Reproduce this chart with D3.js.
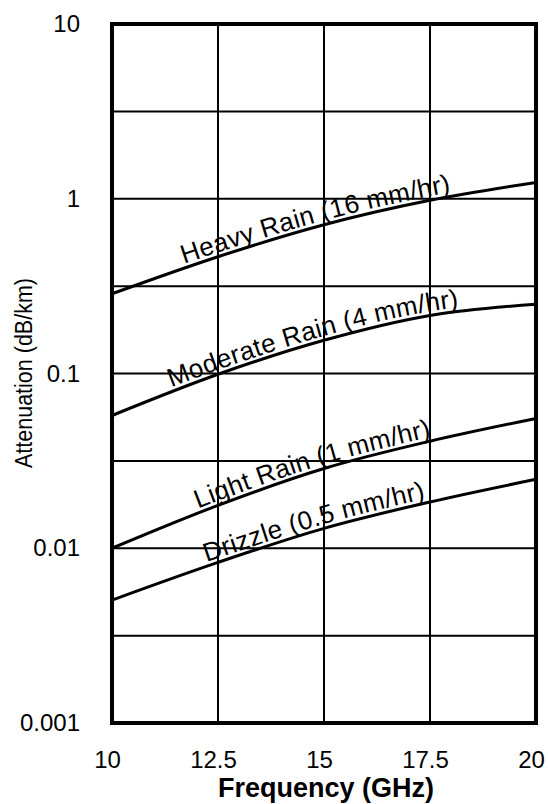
<!DOCTYPE html>
<html>
<head>
<meta charset="utf-8">
<script src="https://cdn.jsdelivr.net/npm/d3@7"></script>
<style>
  html, body { margin: 0; padding: 0; background: #fff; }
  svg { display: block; }
  text { font-family: "Liberation Sans", Arial, Helvetica, sans-serif; fill: #000; }
</style>
</head>
<body>
<svg id="chart" width="548" height="804"></svg>
<script>
// ---- data ----
const frequencies = [10, 12.5, 15, 17.5, 20];
const heavyRain    = [0.286, 0.466, 0.71, 0.98, 1.24];
const moderateRain = [0.0575, 0.099, 0.155, 0.215, 0.249];
const lightRain    = [0.01, 0.0176, 0.0286, 0.041, 0.0553];
const drizzle      = [0.00505, 0.0083, 0.013, 0.0184, 0.0248];

const seriesNames  = ["Heavy Rain (16 mm/hr)", "Moderate Rain (4 mm/hr)", "Light Rain (1 mm/hr)", "Drizzle (0.5 mm/hr)"];
const labelStartGHz = [11.72, 11.42, 12.05, 12.25];

const xTickValues = [10, 12.5, 15, 17.5, 20];
const xTickLabels = ["10", "12.5", "15", "17.5", "20"];
const yTickValues = [0.001, 0.01, 0.1, 1, 10];
const yTickLabels = ["0.001", "0.01", "0.1", "1", "10"];
const yGridValues = [0.001, 0.00316, 0.01, 0.0316, 0.1, 0.316, 1, 3.16, 10];
const xGridValues = [10, 12.5, 15, 17.5, 20];

const xTitle = "Frequency (GHz)";
const yTitle = "Attenuation (dB/km)";

// ---- layout ----
const plotLeft = 112, plotRight = 536, plotTop = 24, plotBottom = 723;
const svg = d3.select("#chart");

const x = d3.scaleLinear().domain([10, 20]).range([plotLeft, plotRight]);
const y = d3.scaleLog().domain([0.001, 10]).range([plotBottom, plotTop]);

// grid
const grid = svg.append("g");
grid.selectAll("line.h").data(yGridValues).join("line")
  .attr("class", "h")
  .attr("x1", plotLeft).attr("x2", plotRight)
  .attr("y1", d => y(d)).attr("y2", d => y(d))
  .attr("stroke", "#000").attr("stroke-width", 2);
grid.selectAll("line.v").data(xGridValues).join("line")
  .attr("class", "v")
  .attr("y1", plotTop).attr("y2", plotBottom)
  .attr("x1", d => x(d)).attr("x2", d => x(d))
  .attr("stroke", "#000").attr("stroke-width", 2);

// curves
const allSeries = [heavyRain, moderateRain, lightRain, drizzle];
const line = d3.line()
  .x((d, i) => x(frequencies[i]))
  .y(d => y(d))
  .curve(d3.curveMonotoneX);

const paths = svg.append("g").selectAll("path").data(allSeries).join("path")
  .attr("id", (d, i) => "curve" + i)
  .attr("d", line)
  .attr("fill", "none")
  .attr("stroke", "#000")
  .attr("stroke-width", 3);

// border
svg.append("rect")
  .attr("x", plotLeft).attr("y", plotTop)
  .attr("width", plotRight - plotLeft).attr("height", plotBottom - plotTop)
  .attr("fill", "none").attr("stroke", "#000").attr("stroke-width", 4);

// curve labels along the curves (group lifted slightly above the lines)
function lengthAtX(node, tx) {
  let lo = 0, hi = node.getTotalLength();
  for (let k = 0; k < 40; k++) {
    const mid = (lo + hi) / 2;
    if (node.getPointAtLength(mid).x < tx) lo = mid; else hi = mid;
  }
  return lo;
}
const labels = svg.append("g").attr("transform", "translate(-1,-4)");
paths.each(function(d, i) {
  const off = lengthAtX(this, x(labelStartGHz[i]));
  labels.append("text")
    .attr("font-size", 26)
    .attr("letter-spacing", 0.4)
    .append("textPath")
    .attr("href", "#curve" + i)
    .attr("startOffset", off)
    .text(seriesNames[i]);
});

// axes
const yAxis = d3.axisLeft(y).tickValues(yTickValues)
  .tickFormat((d, i) => yTickLabels[i]).tickSize(0).tickPadding(32);
const gy = svg.append("g").attr("transform", `translate(${plotLeft},0)`).call(yAxis);
gy.select(".domain").remove();
gy.selectAll("text").attr("font-size", 24).attr("font-family", null).attr("fill", "#000");

const xAxis = d3.axisBottom(x).tickValues(xTickValues)
  .tickFormat((d, i) => xTickLabels[i]).tickSize(0).tickPadding(28);
const gx = svg.append("g").attr("transform", `translate(0,${plotBottom})`).call(xAxis);
gx.select(".domain").remove();
gx.selectAll("text").attr("font-size", 24).attr("font-family", null).attr("fill", "#000").attr("dx", -5);

// titles
svg.append("text")
  .attr("x", (plotLeft + plotRight) / 2 + 2).attr("y", 797)
  .attr("text-anchor", "middle")
  .attr("font-size", 27).attr("font-weight", "bold")
  .text(xTitle);

svg.append("text")
  .attr("transform", "translate(32,373) rotate(-90)")
  .attr("text-anchor", "middle")
  .attr("font-size", 23)
  .attr("textLength", 190).attr("lengthAdjust", "spacingAndGlyphs")
  .text(yTitle);
</script>
</body>
</html>
